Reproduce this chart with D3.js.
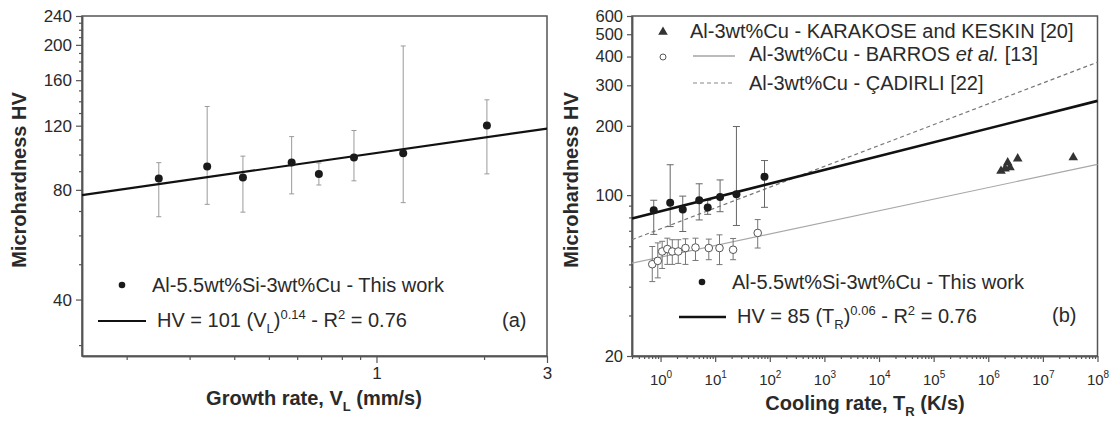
<!DOCTYPE html>
<html>
<head>
<meta charset="utf-8">
<script src="https://cdn.jsdelivr.net/npm/d3@7"></script>
<style>
    body { margin: 0; background: #fff; }
    svg text { font-family: "Liberation Sans", Arial, sans-serif; fill: #2a2a2a; }
</style>
</head>
<body>
<div id="chart"></div>
<script>

/* panel (a): hardness vs growth rate */
const growthRate   = [0.246, 0.336, 0.423, 0.579, 0.69, 0.865, 1.188, 2.037];
const hardness     = [86, 92.7, 86.5, 95.1, 88.4, 98.2, 100.9, 120.1];
const hardnessLow  = [67.5, 73, 69.5, 78, 82.5, 84.7, 73.8, 88.5];
const hardnessHigh = [95, 135.5, 99, 112, 94.8, 116.4, 198.6, 141.3];
const fitA = [[0.15, 77.4], [3, 117.8]];
const yTicksA = [40, 80, 120, 160, 200, 240];
const yMinorA = [30, 50, 60, 70, 90, 100, 110, 130, 140, 150, 170, 180, 190, 210, 220, 230];
const xTicksA = [1, 3];
const xMinorA = [0.2, 0.3, 0.4, 0.5, 0.6, 0.7, 0.8, 0.9, 2];

/* panel (b): hardness vs cooling rate */
const coolingRate = [0.75, 1.5, 2.55, 5.1, 7.3, 12.3, 24.5, 80];
const barrosRate = [0.705, 0.89, 1.07, 1.33, 1.64, 2.11, 2.86, 4.36, 7.64, 12.0, 21.3, 60.1];
const barrosHV   = [50.1, 51.8, 56.9, 58.3, 56.9, 56.9, 58.9, 59.2, 58.9, 58.9, 57.9, 68.5];
const barrosLow  = [42.1, 43.7, 48, 50, 50, 50.5, 50, 52, 52.4, 49.9, 52.4, 58.9];
const barrosHigh = [59.8, 62, 63, 65, 64, 64, 64.6, 65, 64.4, 67.2, 64.8, 78.3];
const karakoseRate = [1.71e6, 2.03e6, 2.27e6, 2.5e6, 3.46e6, 3.6e7];
const karakoseHV   = [127.2, 130.3, 138.4, 132, 144, 145.6];
const fitB       = [[0.3, 79.1], [1e8, 256.7]];
const barrosFit  = [[0.3, 50.6], [1e8, 136]];
const cadirliFit = [[0.3, 64], [1e8, 378]];
const yTicksB = [20, 100, 200, 300, 400, 500, 600];
const yMinorB = [30, 40, 50, 60, 70, 80, 90];
const xTicksB = [1, 10, 100, 1e3, 1e4, 1e5, 1e6, 1e7, 1e8];

const width = 1113;
const height = 421;
const font = "Liberation Sans, Arial, sans-serif";

const svg = d3.select("#chart")
    .append("svg")
    .attr("width", width)
    .attr("height", height);

const xA = d3.scaleLog().domain([0.15, 3]).range([82, 547]);
const yA = d3.scaleLog().domain([28, 240]).range([356, 16]);
const xB = d3.scaleLog().domain([0.3, 1e8]).range([632, 1097.5]);
const yB = d3.scaleLog().domain([20, 600]).range([356, 16]);

// minor ticks for every decade of the cooling-rate axis
let xMinorB = [];
for (let e = -1; e < 8; e++) {
    for (let k = 2; k <= 9; k++) {
        const v = k * Math.pow(10, e);
        if (v > 0.3 && v < 1e8) xMinorB.push(v);
    }
}

// text with sub / superscript parts: ["plain", ["L","sub"], ...]
function richText(x, y, parts, size, anchor) {
    const t = svg.append("text")
        .attr("x", x)
        .attr("y", y)
        .attr("font-size", size)
        .attr("text-anchor", anchor || "start");
    let shift = 0;
    parts.forEach(function(p) {
        const txt = typeof p === "string" ? p : p[0];
        const kind = typeof p === "string" ? "" : p[1];
        const target = kind === "sub" ? size * 0.3 : kind === "sup" ? -size * 0.42 : 0;
        const ts = t.append("tspan").attr("dy", target - shift).text(txt);
        if (kind === "sub" || kind === "sup") ts.attr("font-size", size * 0.65);
        if (kind === "it") ts.attr("font-style", "italic");
        shift = target;
    });
    return t;
}

function styleAxis(g, size) {
    g.attr("font-family", font).attr("font-size", size);
    g.select(".domain").attr("stroke", "#555").attr("stroke-width", 1.5);
    g.selectAll(".tick line").attr("stroke", "#555").attr("stroke-width", 1.2);
    g.selectAll(".tick text").attr("fill", "#333");
}

function drawFrame(x, y) {
    svg.append("rect")
        .attr("x", x.range()[0])
        .attr("y", y.range()[1])
        .attr("width", x.range()[1] - x.range()[0])
        .attr("height", y.range()[0] - y.range()[1])
        .attr("fill", "none")
        .attr("stroke", "#555")
        .attr("stroke-width", 1.5);
}

function errorBars(xs, low, high, x, y, color, cap) {
    svg.append("g").selectAll("line")
        .data(xs)
        .enter()
        .append("line")
            .attr("x1", d => x(d))
            .attr("x2", d => x(d))
            .attr("y1", (d, i) => y(low[i]))
            .attr("y2", (d, i) => y(high[i]))
            .attr("stroke", color)
            .attr("stroke-width", 1);
    [low, high].forEach(function(arr) {
        svg.append("g").selectAll("line")
            .data(xs)
            .enter()
            .append("line")
                .attr("x1", d => x(d) - cap)
                .attr("x2", d => x(d) + cap)
                .attr("y1", (d, i) => y(arr[i]))
                .attr("y2", (d, i) => y(arr[i]))
                .attr("stroke", color)
                .attr("stroke-width", 1);
    });
}

const line = (x, y) => d3.line().x(d => x(d[0])).y(d => y(d[1]));

/* ---------- PANEL (a) ---------- */
drawFrame(xA, yA);

svg.append("g")
    .attr("transform", "translate(0,356)")
    .call(d3.axisBottom(xA).tickValues(xMinorA).tickSize(4).tickSizeOuter(0).tickFormat(""))
    .call(g => styleAxis(g, 17));
svg.append("g")
    .attr("transform", "translate(0,356)")
    .call(d3.axisBottom(xA).tickValues(xTicksA).tickSize(7).tickSizeOuter(0).tickPadding(4).tickFormat(d3.format("d")))
    .call(g => styleAxis(g, 17));

svg.append("g")
    .attr("transform", "translate(82,0)")
    .call(d3.axisLeft(yA).tickValues(yMinorA).tickSize(3).tickSizeOuter(0).tickFormat(""))
    .call(g => styleAxis(g, 17));
svg.append("g")
    .attr("transform", "translate(82,0)")
    .call(d3.axisLeft(yA).tickValues(yTicksA).tickSize(6).tickSizeOuter(0).tickPadding(4).tickFormat(d3.format("d")))
    .call(g => styleAxis(g, 17));

errorBars(growthRate, hardnessLow, hardnessHigh, xA, yA, "#9a9a9a", 2.5);

svg.append("path")
    .datum(fitA)
    .attr("d", line(xA, yA))
    .attr("stroke", "#111")
    .attr("stroke-width", 2.2)
    .attr("fill", "none");

svg.append("g").selectAll("circle")
    .data(growthRate)
    .enter()
    .append("circle")
        .attr("cx", d => xA(d))
        .attr("cy", (d, i) => yA(hardness[i]))
        .attr("r", 4)
        .attr("fill", "#1a1a1a");

// legend (a)
svg.append("circle").attr("cx", 122).attr("cy", 285).attr("r", 3.3).attr("fill", "#1a1a1a");
richText(152, 292, ["Al-5.5wt%Si-3wt%Cu - This work"], 20);
svg.append("line").attr("x1", 98).attr("x2", 146).attr("y1", 321).attr("y2", 321)
    .attr("stroke", "#111").attr("stroke-width", 2.2);
richText(157, 327, ["HV = 101 (V", ["L", "sub"], ")", ["0.14", "sup"], " - R", ["2", "sup"], " = 0.76"], 20);
richText(502, 327, ["(a)"], 20);

// axis titles (a)
richText(314, 405, ["Growth rate, V", ["L", "sub"], " (mm/s)"], 20, "middle").attr("font-weight", "bold");
svg.append("text")
    .attr("transform", "translate(26,180) rotate(-90)")
    .attr("text-anchor", "middle")
    .attr("font-size", 20)
    .attr("font-weight", "bold")
    .text("Microhardness HV");

/* ---------- PANEL (b) ---------- */
drawFrame(xB, yB);

svg.append("g")
    .attr("transform", "translate(0,356)")
    .call(d3.axisBottom(xB).tickValues(xMinorB).tickSize(3).tickSizeOuter(0).tickFormat(""))
    .call(g => styleAxis(g, 15));
const xAxisB = svg.append("g")
    .attr("transform", "translate(0,356)")
    .call(d3.axisBottom(xB).tickValues(xTicksB).tickSize(6).tickSizeOuter(0).tickPadding(12).tickFormat(""))
    .call(g => styleAxis(g, 15));
xAxisB.selectAll(".tick text").each(function(d) {
    const t = d3.select(this);
    t.append("tspan").text("10");
    t.append("tspan").attr("dy", -7).attr("font-size", 10).text(Math.round(Math.log10(d)));
});

svg.append("g")
    .attr("transform", "translate(632,0)")
    .call(d3.axisLeft(yB).tickValues(yMinorB).tickSize(3).tickSizeOuter(0).tickFormat(""))
    .call(g => styleAxis(g, 17));
svg.append("g")
    .attr("transform", "translate(632,0)")
    .call(d3.axisLeft(yB).tickValues(yTicksB).tickSize(5).tickSizeOuter(0).tickPadding(4).tickFormat(d3.format("d")))
    .call(g => styleAxis(g, 16.5));

// reference lines
svg.append("path")
    .datum(barrosFit)
    .attr("d", line(xB, yB))
    .attr("stroke", "#a8a8a8")
    .attr("stroke-width", 1.2)
    .attr("fill", "none");
svg.append("path")
    .datum(cadirliFit)
    .attr("d", line(xB, yB))
    .attr("stroke", "#777")
    .attr("stroke-width", 1.2)
    .attr("stroke-dasharray", "4,3")
    .attr("fill", "none");

errorBars(barrosRate, barrosLow, barrosHigh, xB, yB, "#777", 3);
errorBars(coolingRate, hardnessLow, hardnessHigh, xB, yB, "#666", 3.5);

svg.append("path")
    .datum(fitB)
    .attr("d", line(xB, yB))
    .attr("stroke", "#111")
    .attr("stroke-width", 2.6)
    .attr("fill", "none");

svg.append("g").selectAll("circle")
    .data(barrosRate)
    .enter()
    .append("circle")
        .attr("cx", d => xB(d))
        .attr("cy", (d, i) => yB(barrosHV[i]))
        .attr("r", 3.8)
        .attr("fill", "#fff")
        .attr("stroke", "#555")
        .attr("stroke-width", 1);

svg.append("g").selectAll("circle")
    .data(coolingRate)
    .enter()
    .append("circle")
        .attr("cx", d => xB(d))
        .attr("cy", (d, i) => yB(hardness[i]))
        .attr("r", 4)
        .attr("fill", "#1a1a1a");

const tri = d3.symbol().type(d3.symbolTriangle).size(40);
svg.append("g").selectAll("path")
    .data(karakoseRate)
    .enter()
    .append("path")
        .attr("d", tri)
        .attr("transform", (d, i) => `translate(${xB(d)},${yB(karakoseHV[i])})`)
        .attr("fill", "#333");

// legend (b), top
svg.append("path").attr("d", tri).attr("transform", "translate(663,32)").attr("fill", "#333");
richText(690, 38, ["Al-3wt%Cu - KARAKOSE and KESKIN [20]"], 20);
svg.append("circle").attr("cx", 663).attr("cy", 57).attr("r", 3).attr("fill", "#fff")
    .attr("stroke", "#555").attr("stroke-width", 1);
svg.append("line").attr("x1", 693).attr("x2", 735).attr("y1", 56).attr("y2", 56)
    .attr("stroke", "#bbb").attr("stroke-width", 2);
richText(749, 61, ["Al-3wt%Cu - BARROS ", ["et al.", "it"], " [13]"], 20);
svg.append("line").attr("x1", 693).attr("x2", 735).attr("y1", 83).attr("y2", 83)
    .attr("stroke", "#888").attr("stroke-width", 1.2).attr("stroke-dasharray", "4,3");
richText(749, 90, ["Al-3wt%Cu - ÇADIRLI [22]"], 20);

// legend (b), bottom
svg.append("circle").attr("cx", 702).attr("cy", 282).attr("r", 3.3).attr("fill", "#1a1a1a");
richText(732, 289, ["Al-5.5wt%Si-3wt%Cu - This work"], 20);
svg.append("line").attr("x1", 679).attr("x2", 726).attr("y1", 317).attr("y2", 317)
    .attr("stroke", "#111").attr("stroke-width", 2.6);
richText(737, 323, ["HV = 85 (T", ["R", "sub"], ")", ["0.06", "sup"], " - R", ["2", "sup"], " = 0.76"], 20);
richText(1052, 322, ["(b)"], 20);

// axis titles (b)
richText(865, 410, ["Cooling rate, T", ["R", "sub"], " (K/s)"], 20, "middle").attr("font-weight", "bold");
svg.append("text")
    .attr("transform", "translate(578,180) rotate(-90)")
    .attr("text-anchor", "middle")
    .attr("font-size", 20)
    .attr("font-weight", "bold")
    .text("Microhardness HV");

</script>
</body>
</html>
